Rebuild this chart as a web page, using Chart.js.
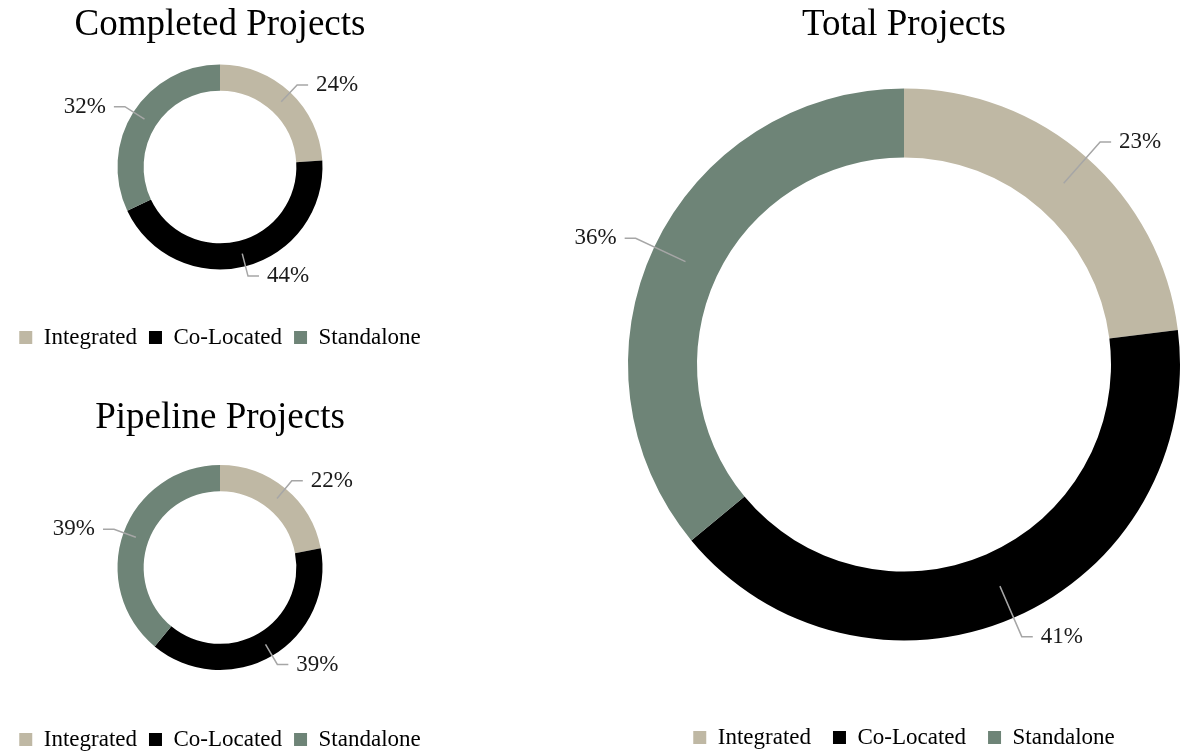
<!DOCTYPE html>
<html>
<head>
<meta charset="utf-8">
<script src="https://cdn.jsdelivr.net/npm/chart.js@4.4.1/dist/chart.umd.min.js"></script>
<style>
  html, body { margin: 0; padding: 0; background: #ffffff; overflow: hidden; width: 1196px; height: 753px; }
  canvas { position: absolute; display: block; }
  #cCompleted { left: 0px; top: 0px; }
  #cPipeline { left: 0px; top: 390px; }
  #cTotal { left: 520px; top: 0px; }
</style>
</head>
<body>
<canvas id="cCompleted" width="440" height="359"></canvas>
<canvas id="cPipeline" width="440" height="371"></canvas>
<canvas id="cTotal" width="676" height="759"></canvas>
<script>
// ---- Data ----
const categories = ['Integrated', 'Co-Located', 'Standalone'];
const completedValues = [24, 44, 32];
const pipelineValues = [22, 39, 39];
const totalValues = [23, 41, 36];
const seriesColors = ['#BFB8A4', '#000000', '#6E8477'];

const FONT = "'Liberation Serif', 'Times New Roman', serif";

// leader-line labels drawn from the arcs' own geometry
const leaderLabels = {
  id: 'leaderLabels',
  afterDatasetsDraw(chart) {
    const ctx = chart.ctx;
    const meta = chart.getDatasetMeta(0);
    const data = chart.data.datasets[0].data;
    const sum = data.reduce((a, b) => a + b, 0);
    ctx.save();
    meta.data.forEach((arc, i) => {
      const p = arc.getProps(['x', 'y', 'startAngle', 'endAngle', 'innerRadius', 'outerRadius'], true);
      const mid = (p.startAngle + p.endAngle) / 2;
      const rm = (p.innerRadius + p.outerRadius) / 2;
      const re = p.outerRadius + 4 + 0.06 * p.outerRadius;
      const c = Math.cos(mid), s = Math.sin(mid);
      const sx = p.x + c * rm, sy = p.y + s * rm;
      const ex = p.x + c * re, ey = p.y + s * re;
      const right = c >= 0;
      const hx = ex + (right ? 11 : -11);
      ctx.strokeStyle = '#A6A6A6';
      ctx.lineWidth = 1.5;
      ctx.beginPath();
      ctx.moveTo(sx, sy);
      ctx.lineTo(ex, ey);
      ctx.lineTo(hx, ey);
      ctx.stroke();
      ctx.fillStyle = '#1a1a1a';
      ctx.font = '23px ' + FONT;
      ctx.textAlign = right ? 'left' : 'right';
      ctx.textBaseline = 'middle';
      ctx.fillText(Math.round(data[i] / sum * 100) + '%', hx + (right ? 8 : -8), ey);
    });
    ctx.restore();
  }
};

function makeChart(id, title, values, opts) {
  return new Chart(document.getElementById(id), {
    type: 'doughnut',
    data: {
      labels: categories,
      datasets: [{
        data: values,
        backgroundColor: seriesColors,
        borderWidth: 0,
        hoverOffset: 0,
        radius: opts.radius,
        cutout: opts.cutout
      }]
    },
    options: {
      responsive: false,
      animation: false,
      layout: { padding: opts.layoutPadding },
      plugins: {
        tooltip: { enabled: false },
        title: {
          display: true,
          text: title,
          color: '#000000',
          font: { family: FONT, size: 37, weight: 'normal', lineHeight: 1.2 },
          padding: { top: opts.titleTop, bottom: 0 }
        },
        legend: {
          display: true,
          position: 'bottom',
          title: { display: true, text: ' ', font: { size: 1, lineHeight: 1.2 }, padding: { top: opts.legendGap, bottom: 0 } },
          labels: {
            color: '#000000',
            font: { family: FONT, size: 23, lineHeight: 1.2 },
            boxWidth: 13,
            boxHeight: 13,
            padding: opts.legendPad
          }
        }
      }
    },
    plugins: [leaderLabels]
  });
}

makeChart('cCompleted', 'Completed Projects', completedValues,
  { radius: 102.5, cutout: '74.5%', titleTop: 3, legendGap: 26.2, legendPad: 12, layoutPadding: 0 });
makeChart('cPipeline', 'Pipeline Projects', pipelineValues,
  { radius: 102.5, cutout: '74.5%', titleTop: 6, legendGap: 20.2, legendPad: 12, layoutPadding: 0 });
makeChart('cTotal', 'Total Projects', totalValues,
  { radius: 276, cutout: '75%', titleTop: 3, legendGap: 21.2, legendPad: 22, layoutPadding: { left: 92 } });
</script>
</body>
</html>
